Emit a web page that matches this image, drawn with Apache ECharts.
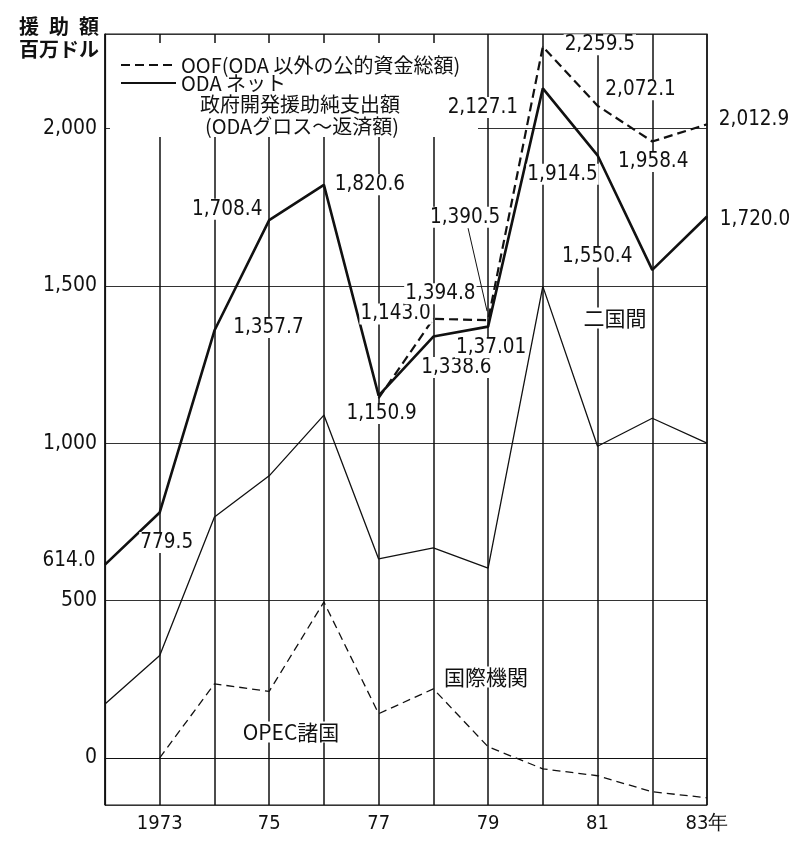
<!DOCTYPE html>
<html>
<head>
<meta charset="utf-8">
<script src="https://cdn.jsdelivr.net/npm/echarts@6/dist/echarts.min.js"></script>
<style>
  html, body { margin: 0; padding: 0; background: #fff; }
  #main { width: 796px; height: 841px; }
</style>
</head>
<body>
<div id="main"></div>
<script>
// 年次と目盛りラベル
var years = ['1972', '1973', '1974', '1975', '1976', '1977', '1978', '1979', '1980', '1981', '1982', '1983'];
var tickLabels = ['', '1973', '', '75', '', '77', '', '79', '', '81', '', '83年'];

// 百万ドル
var oofTotal = [null, null, null, null, null, 1143.0, 1394.8, 1390.5, 2259.5, 2072.1, 1958.4, 2012.9];
var odaNet = [614.0, 779.5, 1357.7, 1708.4, 1820.6, 1150.9, 1338.6, 1370.1, 2127.1, 1914.5, 1550.4, 1720.0];
var odaNetText = ['614.0', '779.5', '1,357.7', '1,708.4', '1,820.6', '1,150.9', '1,338.6', '1,37.01', '2,127.1', '1,914.5', '1,550.4', '1,720.0'];
var bilateral = [171, 325, 765, 896, 1089, 632, 667, 603, 1498, 990, 1079, 1000];
var multilateral = [null, 0, 235, 211, 495, 140, 219, 35, -35, -57, -108, -127];

// ラベルの位置 (点からのずれ)
var odaOffsets = [[-36, -4], [7, 30], [54, -3], [-42, -11], [46, 0], [3, 18], [23, 31], [3, 21], [-60, 19], [-35, 19], [-55, -13], [48, 3]];
var oofOffsets = [null, null, null, null, null, [17, -84], [7, -25], [-23, -103], [57, -2], [43, -16], [1, 20], [47, -5]];

var numFont = 'DejaVu Sans Condensed';
var jpFont = 'Noto Sans CJK JP';

function fmt(v) {
    return v.toLocaleString('en-US', { minimumFractionDigits: 1, maximumFractionDigits: 1 });
}

function withLabels(values, offsets, texts) {
    return values.map(function (v, i) {
        if (v == null || !offsets[i]) return v;
        return {
            value: v,
            label: {
                show: true,
                position: 'inside',
                offset: offsets[i],
                formatter: texts ? texts[i] : fmt(v)
            }
        };
    });
}

var labelStyle = {
    fontFamily: numFont,
    fontSize: 20.5,
    color: '#111',
    backgroundColor: '#fff',
    padding: [0, 1]
};

var chart = echarts.init(document.getElementById('main'));

var option = {
    animation: false,
    backgroundColor: '#fff',
    title: {
        text: '援\u2002助\u2002額\n百万ドル',
        left: 14,
        top: 10,
        textStyle: { fontFamily: jpFont, fontSize: 20, fontWeight: 'bold', lineHeight: 23, color: '#111' }
    },
    legend: {
        data: ['OOF(ODA 以外の公的資金総額)', 'ODA ネット'],
        orient: 'vertical',
        left: 120,
        top: 55,
        padding: 0,
        itemWidth: 55,
        itemHeight: 14,
        itemGap: -2,
        itemStyle: { color: 'rgba(0,0,0,0)', borderWidth: 0 },
        textStyle: { fontFamily: jpFont, fontSize: 20, color: '#111' }
    },
    grid: {
        left: 105, right: 89, top: 34, bottom: 36,
        show: true, borderColor: '#111', borderWidth: 1.2
    },
    xAxis: {
        type: 'category',
        data: years,
        boundaryGap: false,
        axisLine: { lineStyle: { color: '#111', width: 1.2 } },
        axisTick: { show: false },
        axisLabel: {
            interval: 0,
            margin: 9,
            fontFamily: numFont,
            fontSize: 20,
            color: '#111',
            formatter: function (v, i) { return tickLabels[i]; }
        },
        splitLine: { show: true, lineStyle: { color: '#111', width: 1.5 } }
    },
    yAxis: {
        type: 'value',
        min: -150,
        max: 2300,
        splitNumber: 5,
        minInterval: 500,
        maxInterval: 500,
        axisLine: { show: true, lineStyle: { color: '#111', width: 1.2 } },
        axisTick: { show: false },
        axisLabel: {
            showMinLabel: false,
            showMaxLabel: false,
            margin: 8,
            fontFamily: numFont,
            fontSize: 21,
            color: '#111',
            formatter: function (v) { return v.toLocaleString('en-US'); }
        },
        splitLine: { show: true, lineStyle: { color: '#333', width: 1 } }
    },
    series: [
        {
            name: 'OOF(ODA 以外の公的資金総額)',
            type: 'line',
            data: withLabels(oofTotal, oofOffsets),
            symbol: 'circle', symbolSize: 1,
            itemStyle: { color: '#111' },
            lineStyle: { color: '#111', width: 2.2, type: [9, 5] },
            label: labelStyle,
            z: 3
        },
        {
            name: 'ODA ネット',
            type: 'line',
            data: withLabels(odaNet, odaOffsets, odaNetText),
            symbol: 'circle', symbolSize: 1,
            itemStyle: { color: '#111' },
            lineStyle: { color: '#111', width: 2.6 },
            label: labelStyle,
            z: 3
        },
        {
            name: '二国間',
            type: 'line',
            data: bilateral,
            symbol: 'none',
            lineStyle: { color: '#111', width: 1.3 },
            z: 3
        },
        {
            name: '国際機関',
            type: 'line',
            data: multilateral,
            symbol: 'none',
            lineStyle: { color: '#111', width: 1.3, type: [8, 5] },
            z: 3
        }
    ]
};
chart.setOption(option);

// 引き出し線と注記
var p = chart.convertToPixel({ xAxisIndex: 0, yAxisIndex: 0 }, [7, oofTotal[7]]);
var noteStyle = { fontFamily: jpFont, fontSize: 21, fill: '#111', backgroundColor: '#fff', padding: [0, 2] };

chart.setOption({
    graphic: [
        { type: 'rect', z: 1, shape: { x: 110, y: 43, width: 368, height: 94 }, style: { fill: '#fff' } },
        { type: 'line', z: 4, shape: { x1: p[0] - 20, y1: p[1] - 92, x2: p[0] - 1, y2: p[1] - 9 }, style: { stroke: '#111', lineWidth: 1 } },
        { type: 'text', z: 4, x: 300, y: 104, style: { text: '政府開発援助純支出額', font: '20px "Noto Sans CJK JP"', fill: '#111', align: 'center', verticalAlign: 'middle' } },
        { type: 'text', z: 4, x: 302, y: 126, style: { text: '(ODAグロス～返済額)', font: '20px "Noto Sans CJK JP"', fill: '#111', align: 'center', verticalAlign: 'middle' } },
        { type: 'text', z: 4, x: 615, y: 318, style: Object.assign({ text: '二国間', align: 'center', verticalAlign: 'middle' }, noteStyle) },
        { type: 'text', z: 4, x: 486, y: 677, style: Object.assign({ text: '国際機関', align: 'center', verticalAlign: 'middle' }, noteStyle) },
        { type: 'text', z: 4, x: 291, y: 732, style: Object.assign({ text: 'OPEC諸国', align: 'center', verticalAlign: 'middle' }, noteStyle) }
    ]
});
</script>
</body>
</html>
